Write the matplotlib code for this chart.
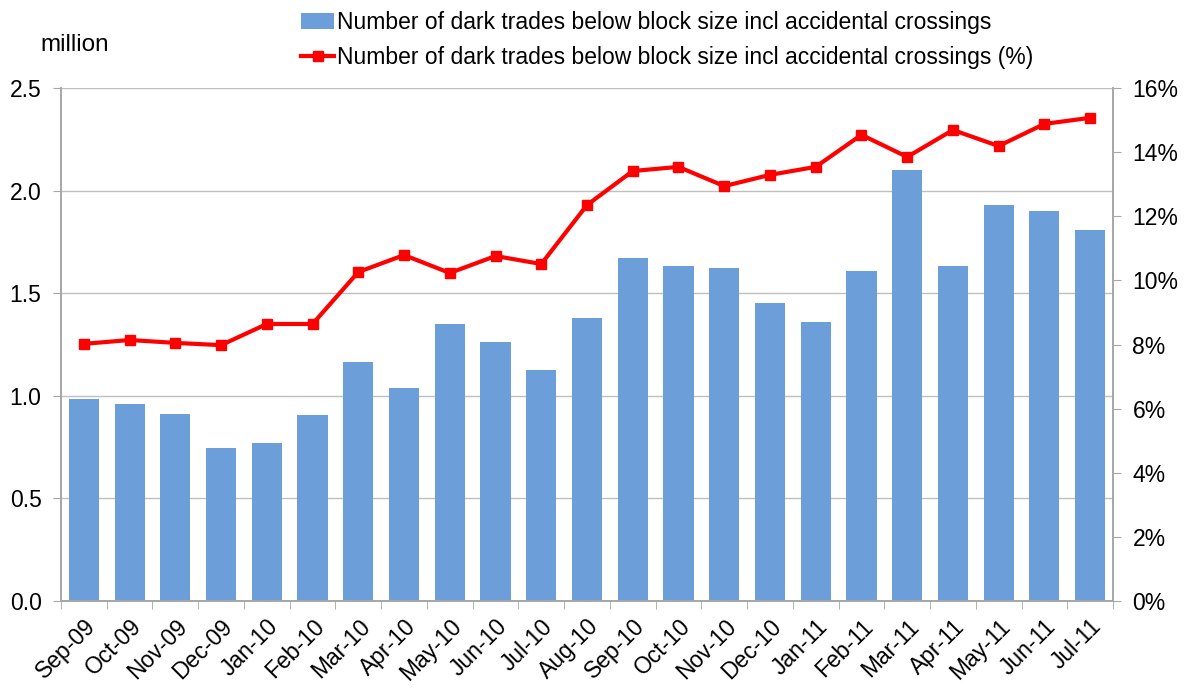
import matplotlib
matplotlib.use("Agg")
import matplotlib.pyplot as plt
import numpy as np
from matplotlib.ticker import FuncFormatter, MultipleLocator

plt.rcParams['font.family'] = ['Liberation Sans', 'DejaVu Sans']

months = ["Sep-09", "Oct-09", "Nov-09", "Dec-09", "Jan-10", "Feb-10", "Mar-10", "Apr-10",
          "May-10", "Jun-10", "Jul-10", "Aug-10", "Sep-10", "Oct-10", "Nov-10", "Dec-10",
          "Jan-11", "Feb-11", "Mar-11", "Apr-11", "May-11", "Jun-11", "Jul-11"]
trades_million = [0.984, 0.96, 0.911, 0.746, 0.77, 0.906, 1.165, 1.038,
                  1.35, 1.262, 1.126, 1.379, 1.672, 1.633, 1.623, 1.452,
                  1.36, 1.608, 2.10, 1.633, 1.93, 1.90, 1.808]
trades_pct = [8.02, 8.14, 8.05, 7.98, 8.64, 8.64, 10.26, 10.79,
              10.23, 10.76, 10.51, 12.35, 13.41, 13.54, 12.94, 13.29,
              13.54, 14.54, 13.85, 14.69, 14.19, 14.88, 15.07]

bar_label = "Number of dark trades below block size incl accidental crossings"
line_label = "Number of dark trades below block size incl accidental crossings (%)"

fig = plt.figure(figsize=(11.89, 6.90), dpi=100)
ax = fig.add_axes([61/1189, 1-601/690, (1113-61)/1189, (601-88)/690])
ax2 = ax.twinx()

x = np.arange(len(months))
bars = ax.bar(x, trades_million, width=0.66, color="#6C9FDA", zorder=2, label=bar_label)
ln, = ax2.plot(x, trades_pct, color="#FF0000", lw=3, marker="s", markersize=7,
               zorder=3, label=line_label)

grey = "#A6A6A6"
fs = 16.5
ax.set_xlim(-0.5, len(months) - 0.5)
ax.set_ylim(0, 2.5)
ax2.set_ylim(0, 16)
ax.yaxis.set_major_locator(MultipleLocator(0.5))
ax.yaxis.set_major_formatter(FuncFormatter(lambda v, p: f"{v:.1f}"))
ax2.yaxis.set_major_locator(MultipleLocator(2))
ax2.yaxis.set_major_formatter(FuncFormatter(lambda v, p: f"{v:.0f}%"))
ax.grid(axis="y", color="#BFBFBF", lw=1, zorder=0)
ax.set_axisbelow(True)

ax.set_xticks(x)
ax.set_xticklabels(months, rotation=45, ha="right", rotation_mode="anchor", fontsize=fs)
ax.set_xticks(np.arange(-0.5, len(months), 1), minor=True)
ax.tick_params(axis="x", which="major", length=0, pad=10)
ax.tick_params(axis="x", which="minor", length=6, color=grey, direction="out")
ax.tick_params(axis="y", labelsize=fs, length=6, color=grey, pad=8)
ax2.tick_params(axis="y", labelsize=fs, length=6, color=grey, pad=8)

for a in (ax, ax2):
    a.spines["top"].set_visible(False)
    for s in ("left", "right", "bottom"):
        a.spines[s].set_color(grey)
        a.spines[s].set_linewidth(1.2)

fig.text(40/1189, 1-45/690, "million", fontsize=17.5, va="center", ha="left")

fig.legend(handles=[bars, ln], labels=[bar_label, line_label],
           loc="upper left", bbox_to_anchor=(292/1189, 1-2/690), frameon=False,
           fontsize=fs, handlelength=1.45, handletextpad=0.12, labelspacing=0.5,
           borderaxespad=0)

fig.savefig("out.png", dpi=100)
